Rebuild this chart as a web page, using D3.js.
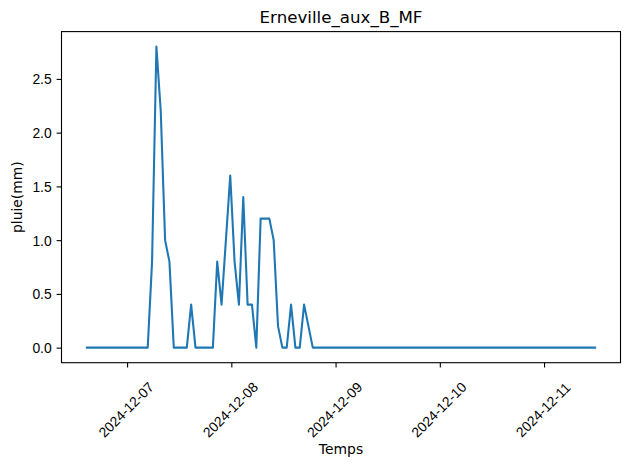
<!DOCTYPE html>
<html>
<head>
<meta charset="utf-8">
<script src="https://cdn.jsdelivr.net/npm/d3@7"></script>
<style>
  html, body { margin: 0; padding: 0; background: #fff; }
  svg { display: block; font-family: "DejaVu Sans", sans-serif; }
</style>
</head>
<body>
<svg id="chart" width="630" height="469"></svg>
<script>
// ---- data ----
const chartTitle = "Erneville_aux_B_MF";
const xLabel = "Temps";
const yLabel = "pluie(mm)";
const startTime = "2024-12-06T14:45:00Z"; // first hourly observation
const rain = [
  0, 0, 0, 0, 0, 0, 0, 0, 0, 0,
  0, 0, 0, 0, 0, 0.8, 2.8, 2.2, 1.0, 0.8,
  0, 0, 0, 0, 0.4, 0, 0, 0, 0, 0,
  0.8, 0.4, 1.0, 1.6, 0.8, 0.4, 1.4, 0.4, 0.4, 0,
  1.2, 1.2, 1.2, 1.0, 0.2, 0, 0, 0.4, 0, 0,
  0.4, 0.2, 0, 0, 0, 0, 0, 0, 0, 0,
  0, 0, 0, 0, 0, 0, 0, 0, 0, 0,
  0, 0, 0, 0, 0, 0, 0, 0, 0, 0,
  0, 0, 0, 0, 0, 0, 0, 0, 0, 0,
  0, 0, 0, 0, 0, 0, 0, 0, 0, 0,
  0, 0, 0, 0, 0, 0, 0, 0, 0, 0,
  0, 0, 0, 0, 0, 0, 0, 0
];
const xTickLabels = ["2024-12-07", "2024-12-08", "2024-12-09", "2024-12-10", "2024-12-11"];
const yTicks = [0, 0.5, 1.0, 1.5, 2.0, 2.5];

// ---- build series (hourly timestamps) ----
const t0 = new Date(startTime);
const series = rain.map((v, i) => ({ t: new Date(t0.getTime() + i * 3600e3), v }));

// ---- layout ----
const svg = d3.select("#chart");
const margin = { left: 61.5, right: 630 - 620.5, top: 31.6, bottom: 469 - 362.7 };
const W = 630, H = 469;
const x0 = margin.left, x1 = W - margin.right, y0 = margin.top, y1 = H - margin.bottom;

const tExt = d3.extent(series, d => d.t);
const tPad = (tExt[1] - tExt[0]) * 0.05;
const x = d3.scaleUtc()
  .domain([new Date(tExt[0].getTime() - tPad), new Date(tExt[1].getTime() + tPad)])
  .range([x0, x1]);
const vMax = d3.max(rain), vMin = d3.min(rain);
const vPad = (vMax - vMin) * 0.05;
const y = d3.scaleLinear().domain([vMin - vPad, vMax + vPad]).range([y1, y0]);

const fs = 13.9;

// x axis
const xAxis = d3.axisBottom(x)
  .tickValues(xTickLabels.map(s => new Date(s + "T00:00:00Z")))
  .tickFormat(d3.utcFormat("%Y-%m-%d"))
  .tickSize(4.9).tickPadding(0);
const gx = svg.append("g").attr("transform", `translate(0,${y1})`).call(xAxis);
gx.select(".domain").remove();
gx.selectAll(".tick line").attr("stroke", "#000").attr("stroke-width", 1.1);
gx.selectAll(".tick text")
  .attr("font-size", fs).attr("fill", "#000")
  .attr("text-anchor", "middle")
  .attr("dominant-baseline", "central")
  .attr("y", 0).attr("dy", 0)
  .attr("transform", "translate(-1.5,47) rotate(-45)");

// y axis
const yAxis = d3.axisLeft(y)
  .tickValues(yTicks)
  .tickFormat(d3.format(".1f"))
  .tickSize(4.9).tickPadding(4.9);
const gy = svg.append("g").attr("transform", `translate(${x0},0)`).call(yAxis);
gy.select(".domain").remove();
gy.selectAll(".tick line").attr("stroke", "#000").attr("stroke-width", 1.1);
gy.selectAll(".tick text").attr("font-size", fs).attr("fill", "#000").attr("dy", "0.35em");

// line
const line = d3.line().x(d => x(d.t)).y(d => y(d.v));
svg.append("path").datum(series)
  .attr("d", line)
  .attr("fill", "none")
  .attr("stroke", "#1f77b4")
  .attr("stroke-width", 2.08)
  .attr("stroke-linejoin", "round")
  .attr("stroke-linecap", "square");

// frame
svg.append("rect")
  .attr("x", x0).attr("y", y0).attr("width", x1 - x0).attr("height", y1 - y0)
  .attr("fill", "none").attr("stroke", "#000").attr("stroke-width", 1.1);

// title & labels
svg.append("text").attr("x", (x0 + x1) / 2).attr("y", y0 - 8.3)
  .attr("text-anchor", "middle").attr("font-size", 16.67).text(chartTitle);
svg.append("text").attr("x", (x0 + x1) / 2).attr("y", 454)
  .attr("text-anchor", "middle")
  .attr("font-size", fs).text(xLabel);
svg.append("text")
  .attr("transform", `translate(17,${(y0 + y1) / 2}) rotate(-90)`)
  .attr("text-anchor", "middle").attr("dominant-baseline", "central")
  .attr("font-size", fs).text(yLabel);
</script>
</body>
</html>
